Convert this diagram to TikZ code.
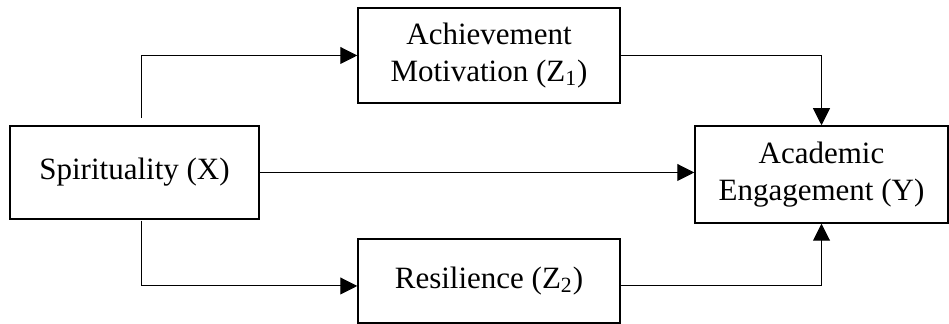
\documentclass[tikz,border=0pt]{standalone}
\usepackage{fontspec}
\setmainfont{Liberation Serif}
\usepackage{tikz}
\usetikzlibrary{arrows.meta,calc}
\tikzset{
  varbox/.style={draw, line width=0.75pt, align=center, inner sep=0pt,
    font=\fontsize{15.5}{18.5}\selectfont},
  conn/.style={line width=0.5pt, -{Triangle[length=8.5pt,width=8.5pt]}}
}

\begin{document}
\begin{tikzpicture}[x=0.5pt,y=0.5pt]
\useasboundingbox (0,0) rectangle (949,324);
\node [varbox, minimum width=124.5pt, minimum height=46.5pt] (spirit) at (134.5,151.5) {Spirituality (X)};
\node [varbox, minimum width=131pt, minimum height=47.5pt] (achieve) at (489,268.5) {Achievement\\Motivation (Z\textsubscript{1})};
\node [varbox, minimum width=131pt, minimum height=42pt] (resil) at (489,43) {Resilience (Z\textsubscript{2})};
\node [varbox, minimum width=126.5pt, minimum height=48.5pt] (engage) at (821.5,149.5) {Academic\\Engagement (Y)};
\coordinate (up) at ($(spirit.north)+(6.5,7)$);
\coordinate (down) at ($(spirit.south)+(6.5,-1)$);
\draw [conn] (up) |- (achieve.west);
\draw [conn] (down) |- ([yshift=-2.5pt]resil.west);
\draw [conn] (spirit.east) -- (spirit.east -| engage.west);
\draw [conn] (achieve.east) -| (engage.north);
\draw [conn] ([yshift=-2.5pt]resil.east) -| (engage.south);
\end{tikzpicture}
\end{document}
